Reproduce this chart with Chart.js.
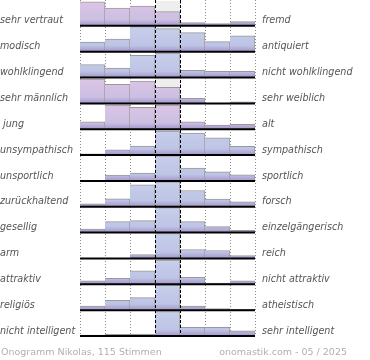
<!DOCTYPE html>
<html>
<head>
<meta charset="utf-8">
<script src="https://cdn.jsdelivr.net/npm/chart.js@4/dist/chart.umd.min.js"></script>
<style>
    html, body { margin: 0; padding: 0; background: #fff; }
    #wrap { position: relative; width: 370px; height: 360px; }
    .foot { position: absolute; top: 346px; font: 9.5px "DejaVu Sans", sans-serif; color: #b0b0b0; line-height: 12px; white-space: nowrap; }
</style>
</head>
<body>
<div id="wrap">
    <canvas id="onogramm" width="370" height="360"></canvas>
    <div class="foot" style="left:1px">Onogramm Nikolas, 115 Stimmen</div>
    <div class="foot" style="right:23px">onomastik.com - 05 / 2025</div>
</div>
<script>
// Gegensatzpaare (links / rechts)
const leftLabels = ['sehr vertraut', 'modisch', 'wohlklingend', 'sehr männlich', ' jung', 'unsympathisch',
    'unsportlich', 'zurückhaltend', 'gesellig', 'arm', 'attraktiv', 'religiös', 'nicht intelligent'];
const rightLabels = ['fremd', 'antiquiert', 'nicht wohlklingend', 'sehr weiblich', 'alt', 'sympathisch',
    'sportlich', 'forsch', 'einzelgängerisch', 'reich', 'nicht attraktiv', 'atheistisch', 'sehr intelligent'];
const columns = ['1', '2', '3', '4', '5', '6', '7'];

// relative Höhe je Spalte (100 = höchster Balken der Zeile)
const vertraut = [96, 71, 79, 57, 13, 9, 17];
const modisch = [38, 50, 100, 92, 76, 40, 63];
const wohlklingend = [52, 38, 89, 98, 29, 25, 25];
const maennlich = [97, 76, 89, 64, 20, 1, 6];
const jung = [30, 97, 88, 97, 30, 17, 20];
const sympathisch = [5, 21, 36, 96, 88, 69, 35];
const sportlich = [1, 23, 31, 100, 51, 36, 24];
const zurueckhaltend = [12, 32, 88, 100, 65, 31, 20];
const gesellig = [14, 44, 48, 100, 44, 24, 9];
const arm = [0, 1, 16, 100, 36, 32, 12];
const attraktiv = [14, 24, 54, 97, 28, 5, 14];
const religioes = [16, 39, 50, 100, 16, 6, 3];
const intelligent = [4, 7, 8, 98, 35, 35, 21];

const rows = [vertraut, modisch, wohlklingend, maennlich, jung, sympathisch, sportlich,
    zurueckhaltend, gesellig, arm, attraktiv, religioes, intelligent];
const pinkRows = [0, 3, 4];

const FULL = 0.967; // Anteil der Zeilenhöhe für 100
const labelFont = { family: 'DejaVu Sans', size: 9.6, style: 'italic' };

function rowFill(chart, r) {
    const pink = pinkRows.includes(r);
    if (!chart.chartArea) return pink ? '#d3c2e4' : '#c3c9e8';
    const y = chart.scales.y;
    const top = y.getPixelForValue(r + 1 - FULL);
    const bot = y.getPixelForValue(r + 1);
    const g = chart.ctx.createLinearGradient(0, top, 0, bot);
    g.addColorStop(0, pink ? '#ddc5e5' : '#c6cfeb');
    g.addColorStop(0.75, pink ? '#cbbfe2' : '#bec4e5');
    g.addColorStop(1, '#a395ca');
    return g;
}

const decor = {
    id: 'decor',
    beforeDatasetsDraw(chart) {
        const { ctx, scales: { x, y } } = chart;
        const half = (x.getPixelForValue(1) - x.getPixelForValue(0)) / 2;
        const c0 = x.getPixelForValue(3) - half;
        ctx.save();
        ctx.fillStyle = '#eeeeee';
        rows.forEach((_, r) => {
            const t = y.getPixelForValue(r + 1 - FULL);
            const b = y.getPixelForValue(r + 1);
            ctx.fillRect(c0, t, half * 2, b - t);
        });
        ctx.restore();
    },
    afterDatasetsDraw(chart) {
        const { ctx, chartArea: a, scales: { x, y } } = chart;
        const half = (x.getPixelForValue(1) - x.getPixelForValue(0)) / 2;
        ctx.save();
        // Mittelspalte gestrichelt
        ctx.strokeStyle = '#000';
        ctx.lineWidth = 1;
        ctx.setLineDash([3, 2]);
        [x.getPixelForValue(3) - half, x.getPixelForValue(3) + half].forEach(px => {
            const xx = Math.round(px) + 0.5;
            ctx.beginPath();
            ctx.moveTo(xx, a.top);
            ctx.lineTo(xx, a.bottom);
            ctx.stroke();
        });
        // Grundlinien
        ctx.setLineDash([]);
        ctx.lineWidth = 2;
        rows.forEach((_, r) => {
            const yy = y.getPixelForValue(r + 1);
            ctx.beginPath();
            ctx.moveTo(a.left, yy);
            ctx.lineTo(a.right, yy);
            ctx.stroke();
        });
        ctx.restore();
    }
};

const rowTicks = axis => { axis.ticks = rows.map((_, r) => ({ value: r + 0.81 })); };
const fitAxis = w => s => { s.width = w; s.paddingTop = 0; s.paddingBottom = 0; };

new Chart(document.getElementById('onogramm'), {
    type: 'bar',
    data: {
        labels: columns,
        datasets: rows.map((vals, r) => ({
            label: leftLabels[r],
            data: vals.map(v => [r + 1 - v / 100 * FULL, r + 1]),
            backgroundColor: ctx => rowFill(ctx.chart, r),
            borderColor: '#999',
            borderWidth: { top: 1, right: 1, bottom: 0, left: 0 },
            borderSkipped: false,
            grouped: false,
            categoryPercentage: 1,
            barPercentage: 1
        }))
    },
    options: {
        responsive: false,
        animation: false,
        layout: { padding: { top: 0, bottom: 24, left: 0, right: 0 } },
        plugins: { legend: { display: false }, tooltip: { enabled: false } },
        scales: {
            x: {
                offset: true,
                grid: { offset: true, color: '#8a8a8a', drawTicks: false },
                border: { display: false, dash: [1, 2] },
                ticks: { display: false }
            },
            y: {
                position: 'left',
                min: 0, max: 13, reverse: true,
                grid: { display: false, drawTicks: false },
                border: { display: false },
                afterBuildTicks: rowTicks,
                afterFit: fitAxis(80),
                ticks: {
                    autoSkip: false, crossAlign: 'far', padding: 0,
                    color: '#555', font: labelFont,
                    callback: (v, i) => leftLabels[i]
                }
            },
            y2: {
                position: 'right',
                min: 0, max: 13, reverse: true,
                grid: { display: false, drawTicks: false },
                border: { display: false },
                afterBuildTicks: rowTicks,
                afterFit: fitAxis(115),
                ticks: {
                    autoSkip: false, crossAlign: 'near', padding: 7,
                    color: '#555', font: labelFont,
                    callback: (v, i) => rightLabels[i]
                }
            }
        }
    },
    plugins: [decor]
});
</script>
</body>
</html>
